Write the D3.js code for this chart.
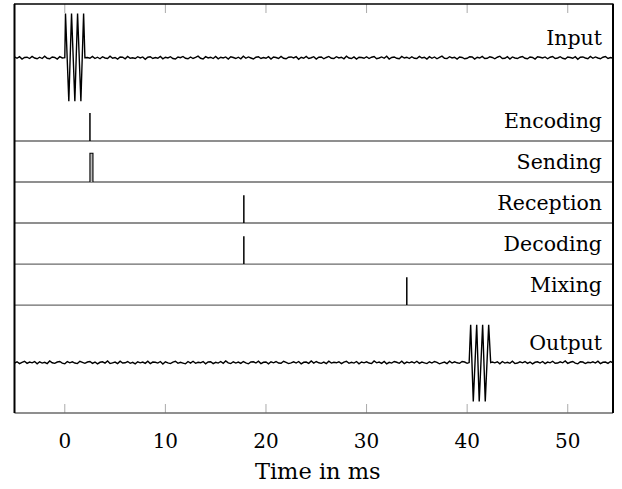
<!DOCTYPE html>
<html><head><meta charset="utf-8">
<script src="https://cdn.jsdelivr.net/npm/d3@7"></script>
<style>html,body{margin:0;padding:0;background:#fff}</style>
</head><body>
<svg id="c" width="622" height="489"></svg>
<script>
// ---- data ----
const xTicks = [0, 10, 20, 30, 40, 50];
const xLabel = "Time in ms";
const laneNames = ["Input", "Encoding", "Sending", "Reception", "Decoding", "Mixing", "Output"];
const laneLevels = [6.03, 4, 3, 2, 1, 0, -1.40];
const noiseStart = -5, noiseStep = 0.25;
// noise values in units of 1/160 of the lane unit
const inputNoise = [3,-2,4,-5,1,2,-3,5,-1,-4,2,-3,6,-2,-4,3,1,-5,4,-1,-3,2,5,-4,0,3,-2,-5,4,1,-2,5,-3,2,-4,4,-1,-3,6,-2,1,-5,3,2,-4,5,-2,0,-3,4,-1,3,-6,2,4,-3,1,-2,5,-4,2,-1,4,-3,-5,3,0,5,-2,-4,3,-3,1,6,-2,-5,4,-1,2,-3,5,-4,2,-1,3,-5,4,1,-3,2,-4,6,-2,3,-1,-5,2,4,-3,1,-2,4,-5,3,1,-3,5,-2,-4,2,3,-1,4,-6,2,-2,5,-3,0,4,-5,2,3,-4,1,5,-2,-3,4,-1,2,-4,6,-1,-3,3,-5,2,1,-2,4,-3,2,5,-4,-1,3,-2,6,-5,1,3,-2,-4,5,-1,2,-3,4,-2,-3,5,-1,2,-5,4,-2,3,-4,1,6,-2,-3,4,-1,2,-5,3,1,-4,-2,4,3,-5,2,-1,5,-3,-2,4,1,-4,2,6,-3,-2,4,-5,3,-1,-3,2,5,-2,-4,3,1,-5,4,2,-1,3,-4,2,5,-3,-1,4,-2,-5,3,1,-2,4,-6,2,3,-1,-4,5,-2,3,-1,-4,2,5,-3,1,-2,4];
const outputNoise = [-2,3,-4,1,5,-3,2,-1,4,-5,3,-2,1,-4,6,-1,-3,2,4,-2,-5,4,-1,3,-2,-4,5,1,-3,2,4,-3,2,-5,1,3,-2,6,-4,-1,2,-4,5,-2,-1,4,-3,1,-5,3,-1,2,-3,5,-4,2,1,-2,4,-6,3,-1,-4,2,5,-3,1,-2,-5,4,-2,5,-3,1,-1,4,-5,2,3,-4,1,-2,4,-3,6,-1,-4,3,-2,2,-3,4,-1,-5,2,3,-2,5,-4,1,2,-5,3,-1,4,-2,-3,5,1,-4,-1,3,-2,4,-5,1,2,-3,6,-2,4,-1,-3,2,-4,5,-2,1,-1,3,-4,2,5,-3,1,-2,4,-5,2,-1,3,-2,-4,6,-1,2,-3,4,-5,1,-2,4,1,-3,5,-4,2,-1,3,-2,5,-3,2,-1,-4,3,-2,4,1,-5,-1,2,-4,5,-2,3,-1,-3,4,2,-3,5,-2,1,-4,2,6,-1,-3,4,2,-1,3,-5,4,-2,1,-3,5,-4,-2,3,-1,4,-3,2,-5,1,3,-2,4,-4,2,-1,5,-3,-2,3,-1,6,-3,1,4,-2,-5,3,2,-4,1,-1,3,-2,5,-4,1,2,-3,4,-1,-5];
const inputBurstT = [0, 0.07, 0.4, 0.67, 1.0, 1.27, 1.6, 1.87, 2.0];
const inputBurstV = [0, 1.08, -1.06, 1.08, -1.06, 1.08, -1.06, 1.08, 0];
const outputBurstT = [40.2, 40.35, 40.61, 40.95, 41.2, 41.54, 41.8, 42.14, 42.34];
const outputBurstV = [0, 0.92, -0.95, 0.92, -0.95, 0.92, -0.95, 0.92, 0];
const spikeLanes = ["Encoding", "Reception", "Decoding", "Mixing"];
const spikeTimes = [2.5, 17.8, 17.8, 34.0];
const spikeHeight = [0.68, 0.68, 0.68, 0.68];
const sendStart = 2.5, sendEnd = 2.8, sendHeight = 0.7;

// ---- layout ----
const pLeft = 14.5, pRight = 613, pTop = 4, pBottom = 413;
const x = d3.scaleLinear().domain([-5, 54.5]).range([pLeft, pRight]);
const y = d3.scaleLinear().domain([-2.63, 7.34]).range([pBottom, pTop]);
const svg = d3.select("#c");
const font = "'DejaVu Serif', serif";

svg.append("defs").append("clipPath").attr("id", "clip")
  .append("rect").attr("x", pLeft).attr("y", pTop).attr("width", pRight - pLeft).attr("height", pBottom - pTop);

const g = svg.append("g").attr("clip-path", "url(#clip)");
const line = d3.line().x(d => x(d[0])).y(d => y(d[1]));

// ticks (top and bottom, inward)
const tickLen = 9;
xTicks.forEach(t => {
  svg.append("line").attr("x1", x(t)).attr("x2", x(t)).attr("y1", pTop).attr("y2", pTop + tickLen)
    .attr("stroke", "#aaa").attr("stroke-width", 1);
  svg.append("line").attr("x1", x(t)).attr("x2", x(t)).attr("y1", pBottom).attr("y2", pBottom - tickLen)
    .attr("stroke", "#aaa").attr("stroke-width", 1);
});

function signal(noise, bt, bv, level) {
  const b0 = bt[0], b1 = bt[bt.length - 1];
  const pts = [];
  noise.forEach((v, i) => {
    const t = noiseStart + i * noiseStep;
    if (t < b0 || t > b1) pts.push([t, level + v / 160]);
  });
  bt.forEach((t, i) => pts.push([t, level + bv[i]]));
  pts.sort((a, b) => a[0] - b[0]);
  return pts;
}

// baselines for event lanes
[1, 2, 3, 4, 5].forEach(i => {
  g.append("path").datum([[-5, laneLevels[i]], [54.5, laneLevels[i]]])
    .attr("d", line).attr("stroke", "#6a6a6a").attr("stroke-width", 1.4).attr("fill", "none");
});

// spikes
spikeLanes.forEach((name, k) => {
  const lv = laneLevels[laneNames.indexOf(name)];
  g.append("path").datum([[spikeTimes[k], lv], [spikeTimes[k], lv + spikeHeight[k]]])
    .attr("d", line).attr("stroke", "#000").attr("stroke-width", 1.5).attr("fill", "none");
});
// sending pulse
{
  const lv = laneLevels[2];
  g.append("path").datum([[sendStart, lv], [sendStart, lv + sendHeight], [sendEnd, lv + sendHeight], [sendEnd, lv]])
    .attr("d", line).attr("stroke", "#000").attr("stroke-width", 1.1).attr("fill", "#bbb");
}

// input / output signals
g.append("path").datum(signal(inputNoise, inputBurstT, inputBurstV, laneLevels[0]))
  .attr("d", line).attr("stroke", "#000").attr("stroke-width", 1.4).attr("fill", "none");
g.append("path").datum(signal(outputNoise, outputBurstT, outputBurstV, laneLevels[6]))
  .attr("d", line).attr("stroke", "#000").attr("stroke-width", 1.4).attr("fill", "none");

// frame
svg.append("line").attr("x1", pLeft).attr("x2", pRight).attr("y1", pBottom).attr("y2", pBottom)
  .attr("stroke", "#6a6a6a").attr("stroke-width", 1.4);
svg.append("line").attr("x1", pLeft - 0.5).attr("x2", pRight + 0.5).attr("y1", pTop).attr("y2", pTop)
  .attr("stroke", "#000").attr("stroke-width", 1.5);
svg.append("line").attr("x1", pLeft).attr("x2", pLeft).attr("y1", pTop).attr("y2", pBottom)
  .attr("stroke", "#000").attr("stroke-width", 2);
svg.append("line").attr("x1", pRight).attr("x2", pRight).attr("y1", pTop).attr("y2", pBottom)
  .attr("stroke", "#000").attr("stroke-width", 2);

// lane labels
laneNames.forEach((name, i) => {
  svg.append("text").attr("x", 602).attr("y", y(laneLevels[i]) - 13)
    .attr("text-anchor", "end").attr("font-family", font).attr("font-size", 20.5)
    .attr("fill", "#000").text(name);
});

// tick labels
xTicks.forEach(t => {
  svg.append("text").attr("x", x(t)).attr("y", 448).attr("text-anchor", "middle")
    .attr("font-family", font).attr("font-size", 20).attr("fill", "#000").text(t);
});
svg.append("text").attr("x", (pLeft + pRight) / 2 + 4).attr("y", 479).attr("text-anchor", "middle")
  .attr("font-family", font).attr("font-size", 22.5).attr("fill", "#000").text(xLabel);
</script>
</body></html>
